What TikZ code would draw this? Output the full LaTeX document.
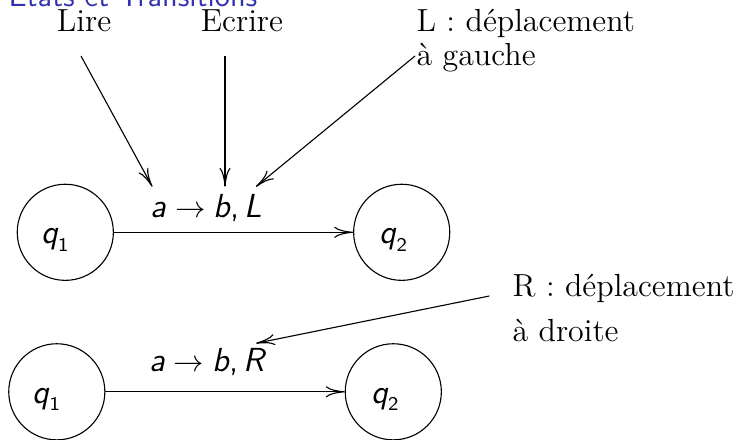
\documentclass[tikz,border=0pt]{standalone}
\usepackage{amsmath}
\usetikzlibrary{arrows.meta}
\definecolor{structure}{rgb}{0.2,0.2,0.7}
\newcommand{\sfl}[1]{\textsf{\fontsize{12}{13}\selectfont\itshape #1}}
\newcommand{\sfc}{\textsf{\fontsize{12}{13}\selectfont ,}}
\begin{document}
\begin{tikzpicture}[x=0.36pt,y=-0.36pt,
  state/.style={draw, circle, minimum size=34.6pt, inner sep=0pt, line width=0.4pt},
  stxt/.style={font=\fontsize{12}{13}\selectfont, inner sep=0pt},
  ann/.style={font=\fontsize{11.5}{13}\selectfont, inner sep=0pt},
  lab/.style={font=\fontsize{10.8}{13}\selectfont, inner sep=0pt},
  arr/.style={-{To[length=6.8pt,width=4pt]}, line width=0.4pt}]
\useasboundingbox (0,0) rectangle (736,439);
\clip (0,0) rectangle (736,439);
% title
\node[anchor=base west, inner sep=0pt, text=structure, font=\sffamily\fontsize{10.9}{13}\selectfont] (title) at (8,6.3) {États et Transitions};
% annotations
\node[ann, anchor=base] (lire) at (84,31.7) {Lire};
\node[ann, anchor=base] (ecrire) at (242,31.7) {Ecrire};
\node[ann, anchor=base west] (Lnote1) at (416,31.7) {L : déplacement};
\node[ann, anchor=base west] (Lnote2) at (416,65) {à gauche};
\node[ann, anchor=base west] (Rnote1) at (512,296.7) {R : déplacement};
\node[ann, anchor=base west] (Rnote2) at (512,341.7) {à droite};
% states
\node[state] (a1) at (65.3,232.3) {};
\node[state] (a2) at (401.7,232.3) {};
\node[state] (b1) at (56.8,391.8) {};
\node[state] (b2) at (393.3,391.8) {};
\node[stxt] (ta1) at (55.5,240) {$\textsf{\itshape q}_{\textsf{\fontsize{7}{8}\selectfont 1}}$};
\node[stxt] (ta2) at (394,240) {$\textsf{\itshape q}_{\textsf{\fontsize{7}{8}\selectfont 2}}$};
\node[stxt] (tb1) at (47,399.5) {$\textsf{\itshape q}_{\textsf{\fontsize{7}{8}\selectfont 1}}$};
\node[stxt] (tb2) at (385.5,399.5) {$\textsf{\itshape q}_{\textsf{\fontsize{7}{8}\selectfont 2}}$};
% transition labels
\node[lab, anchor=base] (labL) at (206.7,217.7) {$\sfl{a}\to\sfl{b}\sfc\,\sfl{L}$};
\node[lab, anchor=base] (labR) at (207,371) {$\sfl{a}\to\sfl{b}\sfc\,\sfl{R}$};
% transitions
\draw[arr] (a1) -- (a2);
\draw[arr] (b1) -- (b2);
% annotation arrows
\coordinate (lireS) at (81,56);
\coordinate (lireE) at (152.3,186.7);
\coordinate (ecrS) at (225,56);
\coordinate (ecrE) at (225,186.7);
\coordinate (LS) at (415,56);
\coordinate (LE) at (256,186.7);
\coordinate (RS) at (489.3,296);
\coordinate (RE) at (256,343.3);
\draw[arr] (lireS) -- (lireE);
\draw[arr] (ecrS) -- (ecrE);
\draw[arr] (LS) -- (LE);
\draw[arr] (RS) -- (RE);
\end{tikzpicture}
\end{document}
